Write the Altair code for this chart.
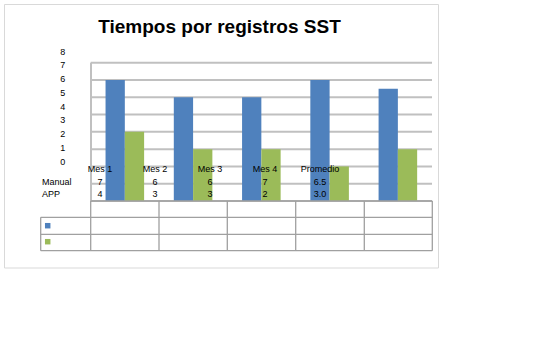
import altair as alt
import pandas as pd

title_text = "Tiempos por registros SST"
categories = ["Mes 1", "Mes 2", "Mes 3", "Mes 4", "Promedio"]
series_names = ["Manual", "APP"]
manual = [7, 6, 6, 7, 6.5]
app = [4, 3, 3, 2, 3.0]
manual_text = ["7", "6", "6", "7", "6.5"]
app_text = ["4", "3", "3", "2", "3.0"]
series_colors = ["#4F81BD", "#9BBB59"]
y_ticks = [0, 1, 2, 3, 4, 5, 6, 7, 8]

FONT = "Liberation Sans"
GRID = "#c0c0c0"
TABLE = "#a0a0a0"

bars_df = pd.DataFrame({
    "cat": categories * 2,
    "serie": [series_names[0]] * len(categories) + [series_names[1]] * len(categories),
    "valor": manual + app,
})
ticks_df = pd.DataFrame({"t": y_ticks})
table_df = pd.DataFrame({
    "cat": categories * 3,
    "fila": ["head"] * len(categories) + [series_names[0]] * len(categories) + [series_names[1]] * len(categories),
    "txt": categories + manual_text + app_text,
})
rows_df = pd.DataFrame({"fila": series_names})
one = pd.DataFrame({"a": [0]})

y_bar_scale = alt.Scale(domain=[0, 8], range=[201, 62.7])

border = alt.Chart(one).mark_rect(fill="white", stroke="#d9d9d9", strokeWidth=1).encode(
    x=alt.value(4.5), x2=alt.value(438.5), y=alt.value(4.5), y2=alt.value(268)
)

grid = alt.Chart(ticks_df).mark_rule(color=GRID, strokeWidth=2).encode(
    y=alt.Y("t:Q", scale=y_bar_scale, axis=None),
    x=alt.value(90.7), x2=alt.value(432),
)
vaxis = alt.Chart(one).mark_rule(color=GRID, strokeWidth=2).encode(
    x=alt.value(91), y=alt.value(62.7), y2=alt.value(201)
)

bars = alt.Chart(bars_df).mark_bar().encode(
    x=alt.X("cat:N", sort=categories,
            scale=alt.Scale(domain=categories, range=[90.7, 432], paddingInner=0.435, paddingOuter=0.2175),
            axis=None),
    xOffset=alt.XOffset("serie:N", sort=series_names,
                        scale=alt.Scale(domain=series_names, paddingInner=0, paddingOuter=0)),
    y=alt.Y("valor:Q", scale=y_bar_scale, axis=None),
    color=alt.Color("serie:N", scale=alt.Scale(domain=series_names, range=series_colors), legend=None),
)

tick_labels = alt.Chart(ticks_df).mark_text(font=FONT, fontSize=9, align="center", baseline="middle", color="black").encode(
    y=alt.Y("t:Q", scale=alt.Scale(domain=[0, 8], range=[161.7, 51.7]), axis=None),
    x=alt.value(62.7),
    text=alt.Text("t:Q"),
)

row_scale = alt.Scale(type="point", domain=["head"] + series_names, range=[169, 194], padding=0)

table_text = alt.Chart(table_df).mark_text(font=FONT, fontSize=9, align="center", baseline="middle", color="black").encode(
    x=alt.X("cat:N", scale=alt.Scale(type="point", domain=categories, range=[100, 320], padding=0), axis=None),
    y=alt.Y("fila:N", scale=row_scale, axis=None),
    text="txt:N",
)

row_labels = alt.Chart(rows_df).mark_text(font=FONT, fontSize=9, align="left", baseline="middle", color="black").encode(
    x=alt.value(42),
    y=alt.Y("fila:N", scale=row_scale, axis=None),
    text="fila:N",
)

legend_sq = alt.Chart(rows_df).mark_square(size=30, opacity=1).encode(
    x=alt.value(47.7),
    y=alt.Y("fila:N", scale=alt.Scale(type="point", domain=series_names, range=[225.7, 241.7], padding=0), axis=None),
    color=alt.Color("fila:N", scale=alt.Scale(domain=series_names, range=series_colors), legend=None),
)

def hline(y, x1, x2):
    return alt.Chart(one).mark_rule(color=TABLE, strokeWidth=1.3).encode(
        y=alt.value(y), x=alt.value(x1), x2=alt.value(x2))

def vline(x, y1, y2):
    return alt.Chart(one).mark_rule(color=TABLE, strokeWidth=1.3).encode(
        x=alt.value(x), y=alt.value(y1), y2=alt.value(y2))

table_lines = [
    hline(201, 90.7, 432.3),
    hline(217.3, 40.7, 432.3),
    hline(234.3, 40.7, 432.3),
    hline(250.7, 40.7, 432.3),
    vline(40.7, 217.3, 250.7),
]
for xv in [90.7, 159, 227.3, 295.7, 364.3, 432.3]:
    table_lines.append(vline(xv, 201, 250.7))

title = alt.Chart(one).mark_text(font=FONT, fontSize=19, fontWeight="bold", align="center",
                                 baseline="alphabetic", color="black").encode(
    x=alt.value(219.5), y=alt.value(32.5), text=alt.value(title_text)
)

chart = alt.layer(
    border, grid, vaxis, bars, *table_lines, tick_labels, table_text, row_labels, legend_sq, title
).resolve_scale(
    x="independent", y="independent", color="independent", xOffset="independent"
).properties(
    width=556, height=345, autosize="none", padding=0, background="white"
).configure_view(stroke=None)

chart.save("out.html", embed_options={"renderer": "svg", "actions": False})
